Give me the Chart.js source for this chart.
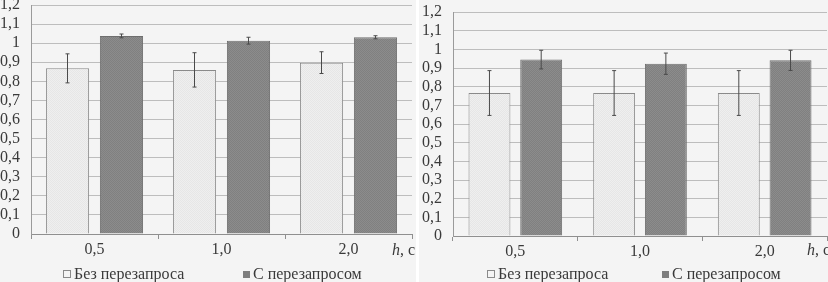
<!DOCTYPE html>
<html>
<head>
<meta charset="utf-8">
<script src="https://cdn.jsdelivr.net/npm/chart.js@4"></script>
<style>
  body { margin: 0; background: #ffffff; width: 828px; height: 282px; overflow: hidden; position: relative;
         font-family: "Liberation Serif", serif; color: #3a3a3a; }
  .panel { position: absolute; top: 0; height: 282px; background: #f4f4f4; }
  .panel canvas { position: absolute; left: 0; top: 0; }
  .hlabel { position: absolute; top: 241px; font-size: 16px; white-space: nowrap; }
  .leg { position: absolute; top: 265px; font-size: 16px; white-space: nowrap; line-height: 18px; }
  .box { display: inline-block; width: 7px; height: 7px; margin-right: 3px; vertical-align: 1px; }
</style>
</head>
<body>
<div class="panel" id="p1" style="left:0; width:416px;">
  <canvas id="chartLeft" width="416" height="282"></canvas>
  <span class="hlabel" style="left:392px;"><i>h</i>, с</span>
  <span class="leg" style="left:63px;"><span class="box" style="background:#f4f4f4;border:1px solid #8a8a8a;width:6px;height:6px;"></span>Без перезапроса</span>
  <span class="leg" style="left:243px;"><span class="box" style="background:#7e7e7e;"></span>С перезапросом</span>
</div>
<div class="panel" id="p2" style="left:419px; width:409px;">
  <canvas id="chartRight" width="409" height="282"></canvas>
  <span class="hlabel" style="left:388px;"><i>h</i>, с</span>
  <span class="leg" style="left:68px;"><span class="box" style="background:#f4f4f4;border:1px solid #8a8a8a;width:6px;height:6px;"></span>Без перезапроса</span>
  <span class="leg" style="left:243px;"><span class="box" style="background:#7e7e7e;"></span>С перезапросом</span>
</div>
<script>
// h, c
const categories = ['0,5', '1,0', '2,0'];
const seriesNames = ['Без перезапроса', 'С перезапросом'];
const yTickLabels = ['0', '0,1', '0,2', '0,3', '0,4', '0,5', '0,6', '0,7', '0,8', '0,9', '1', '1,1', '1,2'];

// left chart
const leftNo = [0.868, 0.860, 0.898];
const leftNoErr = [0.076, 0.090, 0.057];
const leftYes = [1.038, 1.013, 1.031];
const leftYesErr = [0.010, 0.018, 0.008];

// right chart
const rightNo = [0.766, 0.766, 0.766];
const rightNoErr = [0.120, 0.120, 0.120];
const rightYes = [0.945, 0.923, 0.941];
const rightYesErr = [0.050, 0.057, 0.054];

Chart.defaults.font.family = '"Liberation Serif", serif';
Chart.defaults.font.size = 16;
Chart.defaults.color = '#3a3a3a';

function makePattern(c1, c2) {
    const pc = document.createElement('canvas');
    pc.width = 2; pc.height = 2;
    const px = pc.getContext('2d');
    px.fillStyle = c1; px.fillRect(0, 0, 2, 2);
    px.fillStyle = c2; px.fillRect(0, 0, 1, 1); px.fillRect(1, 1, 1, 1);
    return px.createPattern(pc, 'repeat');
}
const lightFill = makePattern('#efefef', '#e6e6e6');
const darkFill = makePattern('#8c8c8c', '#808080');

const errorBars = {
    id: 'errorBars',
    afterDatasetsDraw(chart) {
        const ctx = chart.ctx;
        const y = chart.scales.y;
        chart.data.datasets.forEach((ds, i) => {
            const meta = chart.getDatasetMeta(i);
            meta.data.forEach((bar, j) => {
                const v = ds.data[j], e = ds.errors[j];
                const top = y.getPixelForValue(v + e);
                const bot = y.getPixelForValue(v - e);
                ctx.save();
                ctx.strokeStyle = '#4a4a4a';
                ctx.lineWidth = 1;
                ctx.beginPath();
                ctx.moveTo(bar.x, top); ctx.lineTo(bar.x, bot);
                ctx.moveTo(bar.x - 2, top); ctx.lineTo(bar.x + 2, top);
                ctx.moveTo(bar.x - 2, bot); ctx.lineTo(bar.x + 2, bot);
                ctx.stroke();
                ctx.restore();
            });
        });
    }
};

function makeChart(id, no, noErr, yes, yesErr, o) {
    return new Chart(document.getElementById(id), {
        type: 'bar',
        data: {
            labels: categories,
            datasets: [{
                label: seriesNames[0],
                data: no,
                errors: noErr,
                backgroundColor: lightFill,
                borderColor: '#8a8a8a',
                borderWidth: 1,
                barPercentage: o.bp,
                categoryPercentage: o.cp
            }, {
                label: seriesNames[1],
                data: yes,
                errors: yesErr,
                backgroundColor: darkFill,
                borderColor: '#6e6e6e',
                borderWidth: 1,
                barPercentage: o.bp,
                categoryPercentage: o.cp
            }]
        },
        options: {
            responsive: false,
            animation: false,
            layout: { padding: { left: 0, right: o.right, top: o.top, bottom: 0 } },
            plugins: { legend: { display: false }, tooltip: { enabled: false } },
            scales: {
                x: {
                    grid: { offset: true, drawOnChartArea: false, color: '#8f8f8f', tickLength: 5 },
                    border: { color: '#8f8f8f' },
                    ticks: { padding: 1, color: '#3a3a3a' },
                    afterFit: s => { s.height = o.xh; s.paddingLeft = 0; s.paddingRight = 0; }
                },
                y: {
                    min: 0, max: 1.2,
                    grid: { color: '#bdbdbd', drawTicks: false },
                    border: { color: '#9a9a9a' },
                    ticks: { stepSize: 0.1, autoSkip: false, padding: 11, callback: (v, i) => yTickLabels[i] },
                    afterFit: s => { s.width = o.yw; s.paddingTop = 0; s.paddingBottom = 0; }
                }
            }
        },
        plugins: [errorBars]
    });
}

makeChart('chartLeft', leftNo, leftNoErr, leftYes, leftYesErr,
    { bp: 0.8, cp: 0.85, top: 5, right: 4, yw: 31, xh: 48 });
makeChart('chartRight', rightNo, rightNoErr, rightYes, rightYesErr,
    { bp: 0.81, cp: 0.83, top: 12, right: 1, yw: 34, xh: 46 });
</script>
</body>
</html>
